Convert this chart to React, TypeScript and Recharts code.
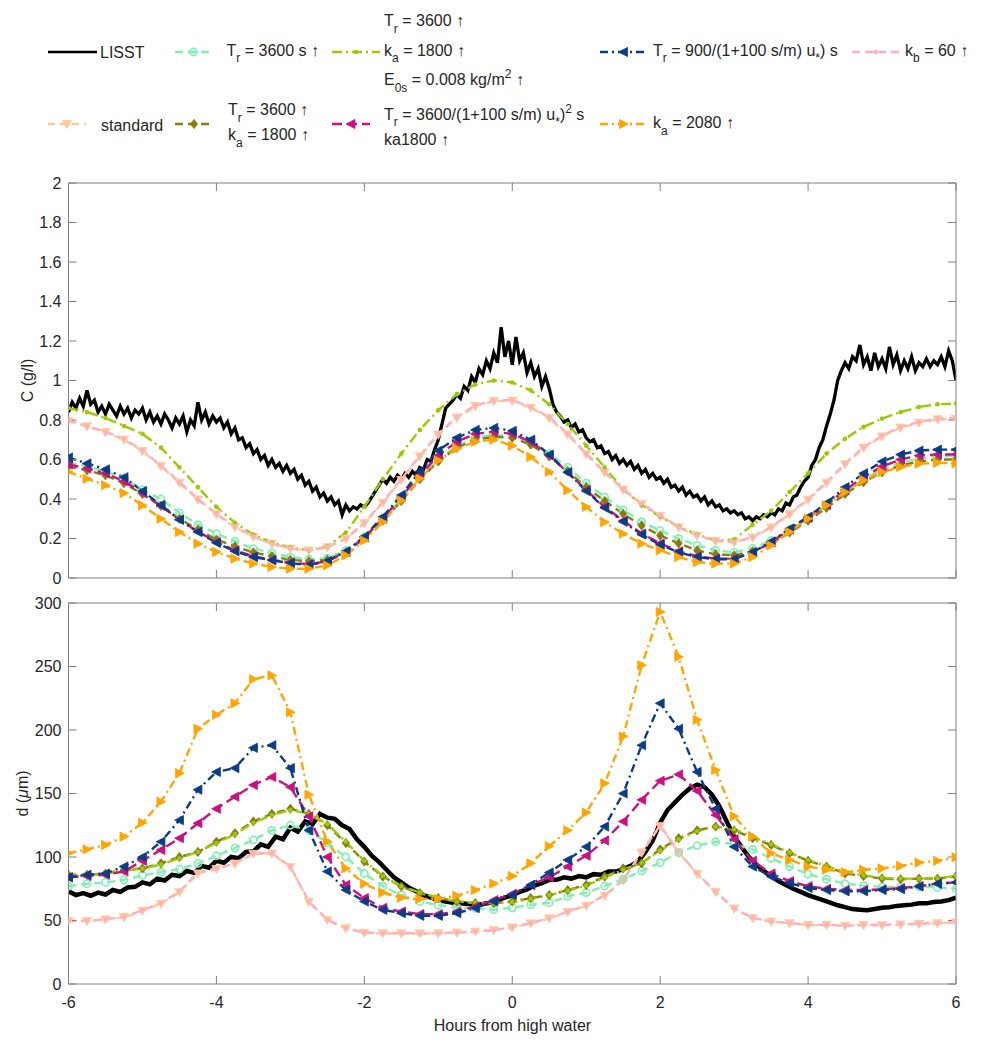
import React from 'react';
import { LineChart, Line, XAxis, YAxis } from 'recharts';

const FONT = '"Liberation Sans", Arial, Helvetica, sans-serif';
const AXIS_COLOR = '#808080';
const TEXT_COLOR = '#262626';

// Time axis: hours relative to high water
const MODEL_HOURS = Array.from({ length: 49 }, (_, i) => -6 + i * 0.25);
const LISST_C_HOURS = Array.from({ length: 241 }, (_, i) => Math.round((-6 + i * 0.05) * 100) / 100);
const LISST_D_HOURS = Array.from({ length: 121 }, (_, i) => Math.round((-6 + i * 0.1) * 10) / 10);

const HOUR_TICKS = [-6, -4, -2, 0, 2, 4, 6];
const C_TICKS = [0, 0.2, 0.4, 0.6, 0.8, 1, 1.2, 1.4, 1.6, 1.8, 2];
const D_TICKS = [0, 50, 100, 150, 200, 250, 300];

// ---- Concentration C (g/l) ----
// LISST record, one row per hour (3-minute spacing)
const C_LISST = [
  0.84, 0.89, 0.86, 0.91, 0.87, 0.95, 0.88, 0.90, 0.84, 0.87, 0.83, 0.88, 0.85, 0.82, 0.87, 0.83, 0.86, 0.81, 0.85, 0.83,
  0.86, 0.80, 0.84, 0.79, 0.82, 0.78, 0.83, 0.80, 0.76, 0.81, 0.78, 0.82, 0.74, 0.80, 0.77, 0.89, 0.80, 0.84, 0.78, 0.82,
  0.79, 0.81, 0.76, 0.79, 0.73, 0.76, 0.70, 0.71, 0.66, 0.68, 0.63, 0.65, 0.60, 0.62, 0.57, 0.60, 0.56, 0.58, 0.54, 0.57,
  0.53, 0.55, 0.50, 0.52, 0.47, 0.49, 0.44, 0.46, 0.41, 0.43, 0.39, 0.41, 0.37, 0.39, 0.32, 0.37, 0.34, 0.36, 0.35, 0.37,
  0.36, 0.38, 0.41, 0.44, 0.47, 0.50, 0.48, 0.51, 0.49, 0.52, 0.50, 0.53, 0.51, 0.54, 0.52, 0.56, 0.55, 0.60, 0.59, 0.65,
  0.70, 0.78, 0.86, 0.88, 0.90, 0.93, 0.91, 0.97, 0.95, 1.02, 0.99, 1.06, 1.03, 1.10, 1.06, 1.14, 1.09, 1.27, 1.12, 1.20,
  1.08, 1.22, 1.10, 1.14, 1.04, 1.09, 1.02, 1.06, 0.97, 1.02, 0.96, 0.88, 0.84, 0.82, 0.79, 0.80, 0.76, 0.78, 0.74, 0.75,
  0.71, 0.69, 0.70, 0.66, 0.67, 0.63, 0.64, 0.60, 0.62, 0.58, 0.60, 0.57, 0.59, 0.55, 0.57, 0.53, 0.55, 0.51, 0.53, 0.50,
  0.51, 0.48, 0.50, 0.46, 0.47, 0.44, 0.46, 0.42, 0.44, 0.41, 0.42, 0.39, 0.41, 0.37, 0.39, 0.36, 0.37, 0.34, 0.35, 0.33,
  0.34, 0.32, 0.33, 0.30, 0.31, 0.29, 0.31, 0.30, 0.32, 0.31, 0.33, 0.32, 0.35, 0.34, 0.38, 0.37, 0.41, 0.42, 0.46, 0.49,
  0.51, 0.57, 0.60, 0.66, 0.70, 0.77, 0.83, 0.90, 1.00, 1.05, 1.09, 1.06, 1.12, 1.10, 1.18, 1.08, 1.12, 1.05, 1.14, 1.07,
  1.11, 1.06, 1.17, 1.08, 1.13, 1.05, 1.10, 1.06, 1.12, 1.05, 1.09, 1.07, 1.11, 1.07, 1.10, 1.08, 1.12, 1.07, 1.15, 1.10,
  1.00,
];
const C_STANDARD = [
  0.795, 0.768, 0.738, 0.70, 0.642,
  0.566, 0.482, 0.397, 0.323,
  0.258, 0.208, 0.172, 0.149,
  0.139, 0.155, 0.198, 0.277,
  0.381, 0.496, 0.616, 0.726,
  0.811, 0.87, 0.896, 0.897,
  0.862, 0.81, 0.726, 0.626,
  0.534, 0.447, 0.373, 0.314,
  0.256, 0.214, 0.188, 0.18,
  0.205, 0.255, 0.322, 0.396,
  0.482, 0.575, 0.659, 0.716,
  0.761, 0.786, 0.803, 0.806,
];
const C_TR3600 = [
  0.585, 0.565, 0.54, 0.505, 0.447,
  0.40, 0.33, 0.27, 0.225,
  0.187, 0.149, 0.127, 0.106,
  0.095, 0.10, 0.14, 0.21,
  0.30, 0.40, 0.51, 0.60,
  0.67, 0.71, 0.725, 0.72,
  0.69, 0.63, 0.56, 0.48,
  0.41, 0.345, 0.285, 0.24,
  0.20, 0.165, 0.14, 0.13,
  0.15, 0.19, 0.245, 0.30,
  0.37, 0.44, 0.50, 0.55,
  0.585, 0.605, 0.615, 0.62,
];
const C_TR_KA = [
  0.565, 0.545, 0.52, 0.48, 0.425,
  0.365, 0.30, 0.245, 0.195,
  0.16, 0.13, 0.11, 0.092,
  0.085, 0.092, 0.13, 0.20,
  0.29, 0.39, 0.50, 0.59,
  0.66, 0.70, 0.715, 0.71,
  0.675, 0.615, 0.54, 0.46,
  0.39, 0.325, 0.265, 0.215,
  0.175, 0.14, 0.12, 0.115,
  0.135, 0.175, 0.23, 0.29,
  0.355, 0.425, 0.485, 0.535,
  0.57, 0.59, 0.60, 0.60,
];
const C_TR_KA_E0 = [
  0.86, 0.84, 0.81, 0.77, 0.73,
  0.66, 0.56, 0.46, 0.36,
  0.28, 0.22, 0.18, 0.155,
  0.14, 0.16, 0.23, 0.36,
  0.50, 0.63, 0.75, 0.85,
  0.93, 0.98, 1.0, 0.99,
  0.95, 0.88, 0.78, 0.67,
  0.56, 0.45, 0.37, 0.31,
  0.26, 0.22, 0.19, 0.195,
  0.27, 0.34, 0.435, 0.53,
  0.63, 0.705, 0.765, 0.807,
  0.84, 0.866, 0.88, 0.883,
];
const C_TR_USTAR2 = [
  0.575, 0.555, 0.53, 0.49, 0.43,
  0.365, 0.295, 0.235, 0.182,
  0.14, 0.11, 0.092, 0.078,
  0.07, 0.085, 0.13, 0.205,
  0.30, 0.41, 0.52, 0.62,
  0.69, 0.73, 0.74, 0.73,
  0.69, 0.62, 0.535, 0.445,
  0.36, 0.29, 0.225, 0.175,
  0.135, 0.11, 0.098, 0.098,
  0.13, 0.18, 0.245, 0.305,
  0.37, 0.445, 0.51, 0.565,
  0.60, 0.62, 0.625, 0.625,
];
const C_TR900 = [
  0.61, 0.58, 0.55, 0.51, 0.44,
  0.37, 0.295, 0.233, 0.178,
  0.135, 0.106, 0.09, 0.075,
  0.066, 0.085, 0.135, 0.21,
  0.31, 0.42, 0.54, 0.645,
  0.71, 0.75, 0.76, 0.745,
  0.70, 0.625, 0.535, 0.44,
  0.355, 0.285, 0.22, 0.168,
  0.13, 0.106, 0.095, 0.095,
  0.13, 0.185, 0.25, 0.31,
  0.38, 0.46, 0.53, 0.59,
  0.625, 0.645, 0.65, 0.65,
];
const C_KA2080 = [
  0.537, 0.503, 0.47, 0.43, 0.368,
  0.30, 0.233, 0.174, 0.132,
  0.098, 0.073, 0.056, 0.047,
  0.047, 0.064, 0.115, 0.19,
  0.284, 0.393, 0.503, 0.596,
  0.655, 0.69, 0.70, 0.67,
  0.613, 0.537, 0.444, 0.36,
  0.283, 0.224, 0.174, 0.14,
  0.106, 0.08, 0.073, 0.073,
  0.106, 0.165, 0.233, 0.30,
  0.368, 0.435, 0.495, 0.537,
  0.562, 0.579, 0.583, 0.58,
];
const C_KB60 = [
  0.80, 0.77, 0.74, 0.705, 0.646,
  0.57, 0.486, 0.40, 0.326,
  0.26, 0.21, 0.174, 0.15,
  0.14, 0.157, 0.20, 0.28,
  0.385, 0.50, 0.62, 0.73,
  0.815, 0.874, 0.90, 0.90,
  0.866, 0.815, 0.73, 0.63,
  0.537, 0.45, 0.376, 0.317,
  0.258, 0.216, 0.19, 0.182,
  0.208, 0.258, 0.326, 0.40,
  0.486, 0.579, 0.663, 0.72,
  0.765, 0.79, 0.807, 0.81,
];

// ---- Floc size d (µm) ----
const D_LISST = [
  73, 70, 71.5, 69.5, 72, 70.5, 74, 72.5, 76, 76.5,
  80, 78.5, 83, 81.5, 86, 85, 89, 87.5, 93, 91.5,
  97, 95.5, 100, 99, 104, 104.5, 110, 108, 116, 114,
  123, 120, 128, 126, 134, 131, 130, 125, 122, 114,
  108, 101, 96, 90, 84, 80, 76, 73, 70, 68,
  66, 65, 64, 63.5, 63, 62.5, 63, 64, 66, 68,
  70, 72.5, 74.5, 77.5, 79.5, 82, 82, 84, 83, 85,
  84, 86.5, 86, 88.5, 88.5, 90.5, 93, 96.5, 104, 113,
  127, 137, 143, 149, 154, 157, 155, 149, 140, 128,
  116, 108, 100, 94, 89, 85, 81, 78, 75, 72.5,
  70, 68, 66, 64, 62, 60.5, 59, 58.5, 58, 59,
  60, 60.5, 61.5, 62, 62.5, 63.5, 63.5, 64.5, 65, 66,
  68,
];
const D_STANDARD = [
  49.5, 49.6, 50.8, 52.6, 57.6,
  63.2, 72.3, 87, 90.5,
  94.6, 102.5, 102.6, 92,
  64.6, 50.3, 43.8, 40.3,
  39.8, 39.8, 39.8, 39.8,
  40.4, 41.2, 42.3, 44.5,
  47.7, 51.6, 56.6, 61.6,
  69.5, 81.4, 103.4, 124.4,
  103.6, 86.6, 72.4, 59.4,
  51.8, 49.1, 47.8, 46.4,
  46.3, 45.8, 46.3, 46.3,
  46.8, 47.3, 47.8, 48.5,
];
const D_TR3600 = [
  77, 79, 80, 82, 85.5,
  88, 90.5, 95, 101,
  107, 113.5, 121, 125,
  121, 111, 100, 87,
  77, 70, 65, 62,
  60.5, 59.5, 58.5, 60,
  62.4, 64, 69, 72,
  77, 82.5, 89, 95.5,
  103.5, 109, 112, 110,
  106, 99, 92.5, 86.5,
  82.5, 79, 77.5, 76.5,
  76.5, 76.5, 76, 75,
];
const D_TR_KA = [
  86, 86, 87, 90, 91,
  95, 100, 104, 112,
  118.7, 128, 134, 138,
  134, 125, 111, 96.4,
  84.6, 76.8, 71.5, 67.6,
  65, 63.7, 63.7, 65,
  67.6, 70, 74, 78,
  84.6, 91, 95, 106,
  114.8, 121, 124, 121,
  114.8, 109.5, 103, 97,
  92.5, 87, 85, 83,
  82.5, 83, 83, 84.6,
];
const D_TR_KA_E0 = [
  85, 85.5, 87, 89, 91,
  94, 99, 104, 111,
  118, 127, 133, 137,
  134, 126, 112, 97,
  85, 77, 72, 68,
  65, 64, 63.5, 64.5,
  67, 70, 73.5, 77.5,
  84, 90, 95.5, 105,
  114, 120.5, 124, 122,
  116, 110, 103.5, 97.5,
  93, 88, 85.5, 83.5,
  83, 83, 83.5, 85,
];
const D_TR_USTAR2 = [
  84, 85, 86, 88.6, 97,
  105.6, 114.8, 126.6, 138,
  147.5, 156.7, 163, 155,
  132, 100, 78, 67.6,
  60, 57, 55, 55,
  57, 61, 66, 71,
  78, 84, 92.5, 101,
  113, 128, 145, 160,
  165, 152, 133, 114,
  97, 87, 81, 77,
  75, 74, 74, 74.5,
  75.5, 77, 79, 80,
];
const D_TR900 = [
  84, 86, 87, 92.5, 100,
  112, 129, 153, 167,
  170, 186, 188, 170,
  121, 88.6, 74, 65,
  58.4, 55.8, 53.7, 53.7,
  55.8, 59.7, 65, 70,
  78, 87.8, 97.7, 108,
  124, 150, 188, 221,
  201, 167, 138, 108,
  92.5, 84.6, 79.4, 75.5,
  74, 73, 73, 74,
  74.7, 76.8, 79, 80,
];
const D_KA2080 = [
  103, 106, 109.5, 116, 127,
  143.6, 166, 201, 212,
  221, 240, 243, 214,
  149, 112, 91, 79,
  72, 68, 67, 67,
  69.5, 74, 79, 85,
  95, 108.5, 121, 135,
  158, 195, 251, 293,
  257.6, 208, 168.5, 132,
  116, 103, 97.7, 92.5,
  90, 88, 90, 91,
  93, 95.6, 97, 99.8,
];
const D_KB60 = [
  49.8, 49.8, 51, 53, 58,
  63.7, 72.8, 87.8, 91,
  95, 103, 103, 92.5,
  65, 50.6, 44, 40.5,
  40, 40, 40, 40,
  40.6, 41.4, 42.5, 44.8,
  48, 52, 57, 62,
  70, 82, 104, 125,
  104, 87, 72.8, 59.7,
  52, 49.3, 48, 46.6,
  46.5, 46, 46.5, 46.5,
  47, 47.5, 48, 48.7,
];

type Shape = 'circle' | 'point' | 'down' | 'diamond' | 'left' | 'right';
interface RunStyle { id: string; color: string; dash: string; shape: Shape }

// plotting order of the model runs
const RUNS: RunStyle[] = [
  { id: 'standard', color: '#FFC896', dash: '7 5', shape: 'down' },
  { id: 'tr3600', color: '#80F0B0', dash: '8 5', shape: 'circle' },
  { id: 'trka', color: '#8B7B0F', dash: '8 5', shape: 'diamond' },
  { id: 'trkae0', color: '#97CC04', dash: '10 4 2 4', shape: 'point' },
  { id: 'trustar2', color: '#C8137F', dash: '10 5', shape: 'left' },
  { id: 'tr900', color: '#0A3C87', dash: '8 4 2 4', shape: 'left' },
  { id: 'ka2080', color: '#FFA400', dash: '8 4 2 4', shape: 'right' },
  { id: 'kb60', color: '#FFAFC3', dash: '8 5', shape: 'point' },
];

const C_RUNS: Record<string, number[]> = {
  standard: C_STANDARD, tr3600: C_TR3600, trka: C_TR_KA, trkae0: C_TR_KA_E0,
  trustar2: C_TR_USTAR2, tr900: C_TR900, ka2080: C_KA2080, kb60: C_KB60,
};
const D_RUNS: Record<string, number[]> = {
  standard: D_STANDARD, tr3600: D_TR3600, trka: D_TR_KA, trkae0: D_TR_KA_E0,
  trustar2: D_TR_USTAR2, tr900: D_TR900, ka2080: D_KA2080, kb60: D_KB60,
};

const pairs = (xs: number[], ys: number[]) => xs.map((h, i) => ({ h, v: ys[i] }));

function markerShape(shape: Shape, cx: number, cy: number, color: string, key?: string) {
  switch (shape) {
    case 'circle':
      return <circle key={key} cx={cx} cy={cy} r={3.6} fill="none" stroke={color} strokeWidth={1.6} />;
    case 'point':
      return <circle key={key} cx={cx} cy={cy} r={2.3} fill={color} />;
    case 'down':
      return <polygon key={key} points={`${cx - 4.6},${cy - 3.6} ${cx + 4.6},${cy - 3.6} ${cx},${cy + 4.6}`} fill={color} stroke={color} strokeWidth={0.8} />;
    case 'diamond':
      return <polygon key={key} points={`${cx},${cy - 4.6} ${cx + 3.6},${cy} ${cx},${cy + 4.6} ${cx - 3.6},${cy}`} fill={color} stroke={color} strokeWidth={0.8} />;
    case 'left':
      return <polygon key={key} points={`${cx - 4.8},${cy} ${cx + 4},${cy - 4.6} ${cx + 4},${cy + 4.6}`} fill={color} stroke={color} strokeWidth={0.8} />;
    case 'right':
    default:
      return <polygon key={key} points={`${cx + 4.8},${cy} ${cx - 4},${cy - 4.6} ${cx - 4},${cy + 4.6}`} fill={color} stroke={color} strokeWidth={0.8} />;
  }
}

const dotRenderer = (run: RunStyle) => (props: any) => {
  const { cx, cy, index } = props;
  if (typeof cx !== 'number' || typeof cy !== 'number') return <g key={`d${index}`} />;
  return markerShape(run.shape, cx, cy, run.color, `d${index}`);
};

const NoTick = () => <g />;
const tickStyle = { fill: TEXT_COLOR, fontSize: 16, fontFamily: FONT };

const runLines = (values: Record<string, number[]>) =>
  RUNS.map((run) => (
    <Line
      key={run.id}
      xAxisId="b"
      yAxisId="l"
      data={pairs(MODEL_HOURS, values[run.id])}
      dataKey="v"
      type="linear"
      stroke={run.color}
      strokeWidth={2.4}
      strokeDasharray={run.dash}
      dot={dotRenderer(run)}
      activeDot={false}
      isAnimationActive={false}
    />
  ));

type Part = [string, 'n' | 'sub' | 'sup'];
function Rich({ x, y, parts }: { x: number; y: number; parts: Part[] }) {
  let level = 0;
  return (
    <text x={x} y={y} fontSize={16} fill={TEXT_COLOR} fontFamily={FONT} style={{ whiteSpace: 'pre' }}>
      {parts.map(([t, kind], i) => {
        const target = kind === 'sub' ? 6.5 : kind === 'sup' ? -7 : 0;
        const dy = target - level;
        level = target;
        return (
          <tspan key={i} dy={dy} fontSize={kind === 'n' ? 16 : 12}>
            {t}
          </tspan>
        );
      })}
    </text>
  );
}

function Sample({ x1, x2, y, run }: { x1: number; x2: number; y: number; run: RunStyle }) {
  const mid = (x1 + x2) / 2;
  return (
    <g>
      <line x1={x1} x2={x2} y1={y} y2={y} stroke={run.color} strokeWidth={2.4} strokeDasharray={run.dash} />
      {markerShape(run.shape, mid, y, run.color)}
    </g>
  );
}

const runById = (id: string) => RUNS.find((r) => r.id === id) as RunStyle;

function LegendBlock() {
  return (
    <svg width={987} height={160} style={{ position: 'absolute', left: 0, top: 0 }}>
      {/* row 1 */}
      <line x1={48} x2={97} y1={52} y2={52} stroke="#000" strokeWidth={2.5} />
      <Rich x={100} y={57.5} parts={[['LISST', 'n']]} />

      <Sample x1={175} x2={212} y={52} run={runById('tr3600')} />
      <Rich x={226.5} y={55.5} parts={[['T', 'n'], ['r', 'sub'], [' = 3600 s ↑', 'n']]} />

      <Sample x1={332} x2={380} y={52} run={runById('trkae0')} />
      <Rich x={384} y={26} parts={[['T', 'n'], ['r', 'sub'], [' = 3600 ↑', 'n']]} />
      <Rich x={384} y={55.5} parts={[['k', 'n'], ['a', 'sub'], [' = 1800 ↑', 'n']]} />
      <Rich x={384} y={85} parts={[['E', 'n'], ['0s', 'sub'], [' = 0.008 kg/m', 'n'], ['2', 'sup'], [' ↑', 'n']]} />

      <Sample x1={600} x2={647} y={52} run={runById('tr900')} />
      <Rich x={653} y={55.5} parts={[['T', 'n'], ['r', 'sub'], [' = 900/(1+100 s/m) u', 'n'], ['*', 'sub'], [') s', 'n']]} />

      <Sample x1={852} x2={899} y={52} run={runById('kb60')} />
      <Rich x={905} y={55.5} parts={[['k', 'n'], ['b', 'sub'], [' = 60 ↑', 'n']]} />

      {/* row 2 */}
      <Sample x1={48} x2={86} y={124} run={runById('standard')} />
      <Rich x={101} y={130.5} parts={[['standard', 'n']]} />

      <Sample x1={175} x2={213} y={124} run={runById('trka')} />
      <Rich x={228} y={115} parts={[['T', 'n'], ['r', 'sub'], [' = 3600 ↑', 'n']]} />
      <Rich x={228} y={140} parts={[['k', 'n'], ['a', 'sub'], [' = 1800 ↑', 'n']]} />

      <Sample x1={332} x2={370} y={124} run={runById('trustar2')} />
      <Rich x={384} y={119.5} parts={[['T', 'n'], ['r', 'sub'], [' = 3600/(1+100 s/m) u', 'n'], ['*', 'sub'], [')', 'n'], ['2', 'sup'], [' s', 'n']]} />
      <Rich x={384} y={144.5} parts={[['ka1800 ↑', 'n']]} />

      <Sample x1={600} x2={647} y={124} run={runById('ka2080')} />
      <Rich x={653} y={128} parts={[['k', 'n'], ['a', 'sub'], [' = 2080 ↑', 'n']]} />
    </svg>
  );
}

const axisCommon = {
  stroke: AXIS_COLOR,
  allowDataOverflow: true,
  interval: 0 as const,
  tickSize: -8,
};

const cLabel = () => (
  <text x={33} y={380.5} transform="rotate(-90 33 380.5)" textAnchor="middle" fontSize={16} fill={TEXT_COLOR} fontFamily={FONT}>
    C (g/l)
  </text>
);
const dLabel = () => (
  <text x={27.5} y={203.5} transform="rotate(-90 27.5 203.5)" textAnchor="middle" fontSize={16} fill={TEXT_COLOR} fontFamily={FONT}>
    d (<tspan fontStyle="italic">μ</tspan>m)
  </text>
);
const hoursLabel = () => (
  <text x={512.5} y={441} textAnchor="middle" fontSize={16} fill={TEXT_COLOR} fontFamily={FONT}>
    Hours from high water
  </text>
);

export default function App() {
  return (
    <div style={{ position: 'absolute', left: 0, top: 0, width: 987, height: 1042, background: '#fff', fontFamily: FONT }}>
      <div style={{ position: 'absolute', left: 0, top: 0 }}>
        <LineChart width={987} height={600} margin={{ top: 182, right: 30, bottom: 12, left: 28 }}>
          <XAxis xAxisId="b" dataKey="h" type="number" domain={[-6, 6]} ticks={HOUR_TICKS} height={10} tick={NoTick} {...axisCommon} />
          <XAxis xAxisId="t" orientation="top" dataKey="h" type="number" domain={[-6, 6]} ticks={HOUR_TICKS} height={1} tick={NoTick} {...axisCommon} />
          <YAxis yAxisId="l" type="number" domain={[0, 2]} ticks={C_TICKS} width={40.5} tick={tickStyle} tickMargin={15} label={cLabel} {...axisCommon} />
          <YAxis yAxisId="r" orientation="right" type="number" domain={[0, 2]} ticks={C_TICKS} width={1} tick={NoTick} {...axisCommon} />
          <Line
            xAxisId="b"
            yAxisId="l"
            data={pairs(LISST_C_HOURS, C_LISST)}
            dataKey="v"
            type="linear"
            stroke="#000"
            strokeWidth={3.3}
            dot={false}
            activeDot={false}
            isAnimationActive={false}
          />
          {runLines(C_RUNS)}
        </LineChart>
      </div>
      <div style={{ position: 'absolute', left: 0, top: 590 }}>
        <LineChart width={987} height={452} margin={{ top: 12, right: 30, bottom: 28, left: 28 }}>
          <XAxis xAxisId="b" dataKey="h" type="number" domain={[-6, 6]} ticks={HOUR_TICKS} height={30} tick={tickStyle} tickMargin={21} label={hoursLabel} {...axisCommon} />
          <XAxis xAxisId="t" orientation="top" dataKey="h" type="number" domain={[-6, 6]} ticks={HOUR_TICKS} height={1} tick={NoTick} {...axisCommon} />
          <YAxis yAxisId="l" type="number" domain={[0, 300]} ticks={D_TICKS} width={40.5} tick={tickStyle} tickMargin={15} label={dLabel} {...axisCommon} />
          <YAxis yAxisId="r" orientation="right" type="number" domain={[0, 300]} ticks={D_TICKS} width={1} tick={NoTick} {...axisCommon} />
          <Line
            xAxisId="b"
            yAxisId="l"
            data={pairs(LISST_D_HOURS, D_LISST)}
            dataKey="v"
            type="linear"
            stroke="#000"
            strokeWidth={4.5}
            dot={false}
            activeDot={false}
            isAnimationActive={false}
          />
          {runLines(D_RUNS)}
        </LineChart>
      </div>
      <LegendBlock />
    </div>
  );
}
